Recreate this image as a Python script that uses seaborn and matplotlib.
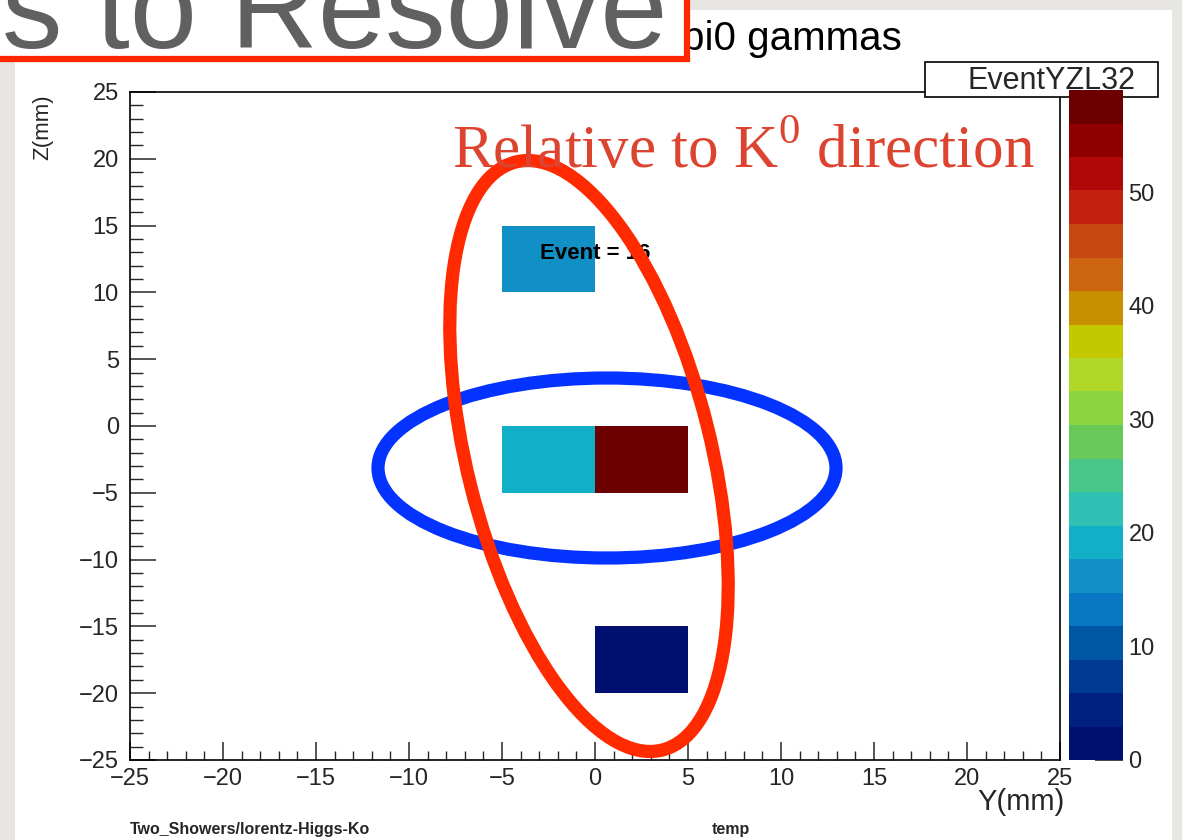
import numpy as np
import pandas as pd
import matplotlib
matplotlib.use("Agg")
import matplotlib.pyplot as plt
import seaborn as sns
from matplotlib.colors import ListedColormap
from matplotlib.patches import Rectangle, Ellipse
from matplotlib.ticker import FixedLocator, FixedFormatter, MultipleLocator

# ---------------- data ----------------
bin_edges = [-25, -20, -15, -10, -5, 0, 5, 10, 15, 20, 25]      # mm, both axes
cell_y_low = [-5, -5, 0, 0]          # lower Y edge of filled bins
cell_z_low = [10, -5, -5, -20]       # lower Z edge of filled bins
cell_value = [16, 19, 59, 2]         # bin contents
z_min, z_max = 0, 59
palette = ["#001070", "#002080", "#003a92", "#0058a4", "#0878c4",
           "#1090c4", "#12b0c8", "#30c0b4", "#48c888", "#68c858",
           "#8cd440", "#b0d828", "#c4c800", "#c89000", "#cc6410",
           "#c84814", "#c42010", "#b00808", "#900000", "#6c0000"]
x_tick_values = [-25, -20, -15, -10, -5, 0, 5, 10, 15, 20, 25]
y_tick_values = [25, 20, 15, 10, 5, 0, -5, -10, -15, -20, -25]
cbar_ticks = [0, 10, 20, 30, 40, 50]

# ---------------- build table ----------------
nb = len(bin_edges) - 1
grid = np.full((nb, nb), np.nan)
for yl, zl, v in zip(cell_y_low, cell_z_low, cell_value):
    col = int((yl - bin_edges[0]) // 5)
    row = int((bin_edges[-1] - (zl + 5)) // 5)
    grid[row, col] = v
row_labels = [f"{bin_edges[-1] - 5 * i}" for i in range(nb)]
col_labels = [f"{bin_edges[i]}" for i in range(nb)]
df = pd.DataFrame(grid, index=row_labels, columns=col_labels)

sns.set_style("white")
plt.rcParams['font.family'] = ['Liberation Sans', 'DejaVu Sans']
plt.rcParams['mathtext.fontset'] = 'custom'
plt.rcParams['mathtext.rm'] = 'Liberation Serif'

W, H = 1182, 840
fig = plt.figure(figsize=(W / 100, H / 100), dpi=100)
fig.patch.set_facecolor("#e8e6e2")

def fx(px):
    return px / W

def fy(py):
    return 1 - py / H

# background canvas
bg = fig.add_axes([0, 0, 1, 1], zorder=0)
bg.set_xlim(0, W); bg.set_ylim(H, 0); bg.axis("off")
bg.add_patch(Rectangle((15, 10), 1157, 840, fc="white", ec="none"))

# main axes
ax_l, ax_r, ax_t, ax_b = 130, 1060, 92, 760
ax = fig.add_axes([fx(ax_l), fy(ax_b), (ax_r - ax_l) / W, (ax_b - ax_t) / H], zorder=1)
cax = fig.add_axes([fx(1069), fy(760), 54 / W, (760 - 90) / H], zorder=3)

cmap = ListedColormap(palette)
sns.heatmap(df, ax=ax, cbar_ax=cax, cmap=cmap, vmin=z_min, vmax=z_max,
            linewidths=0, xticklabels=False, yticklabels=False)

ax.set_xlim(0, nb); ax.set_ylim(nb, 0)
fmt = lambda v: f"{v}".replace("-", "\u2212")
ax.xaxis.set_major_locator(FixedLocator(np.arange(nb + 1)))
ax.xaxis.set_major_formatter(FixedFormatter([fmt(v) for v in x_tick_values]))
ax.yaxis.set_major_locator(FixedLocator(np.arange(nb + 1)))
ax.yaxis.set_major_formatter(FixedFormatter([fmt(v) for v in y_tick_values]))
ax.xaxis.set_minor_locator(MultipleLocator(0.2))
ax.yaxis.set_minor_locator(MultipleLocator(0.2))
for s in ax.spines.values():
    s.set_visible(True); s.set_color("black"); s.set_linewidth(1.2)
ax.tick_params(axis="x", which="major", direction="in", length=13, width=1.1,
               labelsize=17, pad=6, bottom=True, top=False, labelrotation=0)
ax.tick_params(axis="x", which="minor", direction="in", length=6.5, width=1.0,
               bottom=True, top=False)
ax.tick_params(axis="y", which="major", direction="in", length=19, width=1.1,
               labelsize=17, pad=8, left=True, right=False, labelrotation=0)
ax.tick_params(axis="y", which="minor", direction="in", length=9.5, width=1.0,
               left=True, right=False)

ax.set_xlabel("Y(mm)", fontsize=21, loc="right")
ax.xaxis.set_label_coords(1.005, -0.042)
ax.set_ylabel("Z(mm)", fontsize=16, loc="top")
ax.yaxis.set_label_coords(-0.082, 0.996)

ax.text(4.41, 2.5, "Event = 16", fontsize=16, fontweight="bold",
        ha="left", va="baseline", color="black")

# colorbar
cbar = ax.collections[0].colorbar
cbar.set_ticks(cbar_ticks)
cbar.set_ticklabels([str(t) for t in cbar_ticks])
cax.tick_params(direction="in", length=20, width=1.2, labelsize=17, pad=4,
                right=True, left=False)
cax.minorticks_off()

# foreground overlay
fg = fig.add_axes([0, 0, 1, 1], zorder=2)
fg.set_xlim(0, W); fg.set_ylim(H, 0); fg.axis("off")
fg.patch.set_visible(False)

fg.text(682, 50, "pi0 gammas", fontsize=29, ha="left", va="baseline",
        color="black", zorder=2)
fg.add_patch(Rectangle((-10, -10), 697, 69, fc="white", ec="#ff2600",
                       lw=4.5, zorder=3))
fg.text(667, 48, "s to Resolve", fontsize=87, ha="right", va="baseline",
        color="#606060", zorder=4)

fg.add_patch(Rectangle((925, 62), 233, 35, fc="white", ec="black", lw=1.2, zorder=2))
fg.text(1052, 81, "EventYZL32", fontsize=22, ha="center", va="center", zorder=3)

fg.text(130, 834, "Two_Showers/lorentz-Higgs-Ko", fontsize=11.5,
        fontweight="bold", ha="left", va="baseline")
fg.text(712, 834, "temp", fontsize=11.5, fontweight="bold", ha="left", va="baseline")

fg.add_patch(Ellipse((607, 468), 458, 180, angle=0, fill=False,
                     ec="#0433ff", lw=9.5, zorder=5))
fg.add_patch(Ellipse((589, 456), 244, 606, angle=-14, fill=False,
                     ec="#ff2a00", lw=9.5, zorder=6))
fg.text(452, 168, r"Relative to K$^{\mathrm{0}}$ direction", fontsize=44,
        family=["Liberation Serif", "DejaVu Serif"], color="#dc4430",
        ha="left", va="baseline", zorder=7)

fig.savefig("out.png", dpi=100)
